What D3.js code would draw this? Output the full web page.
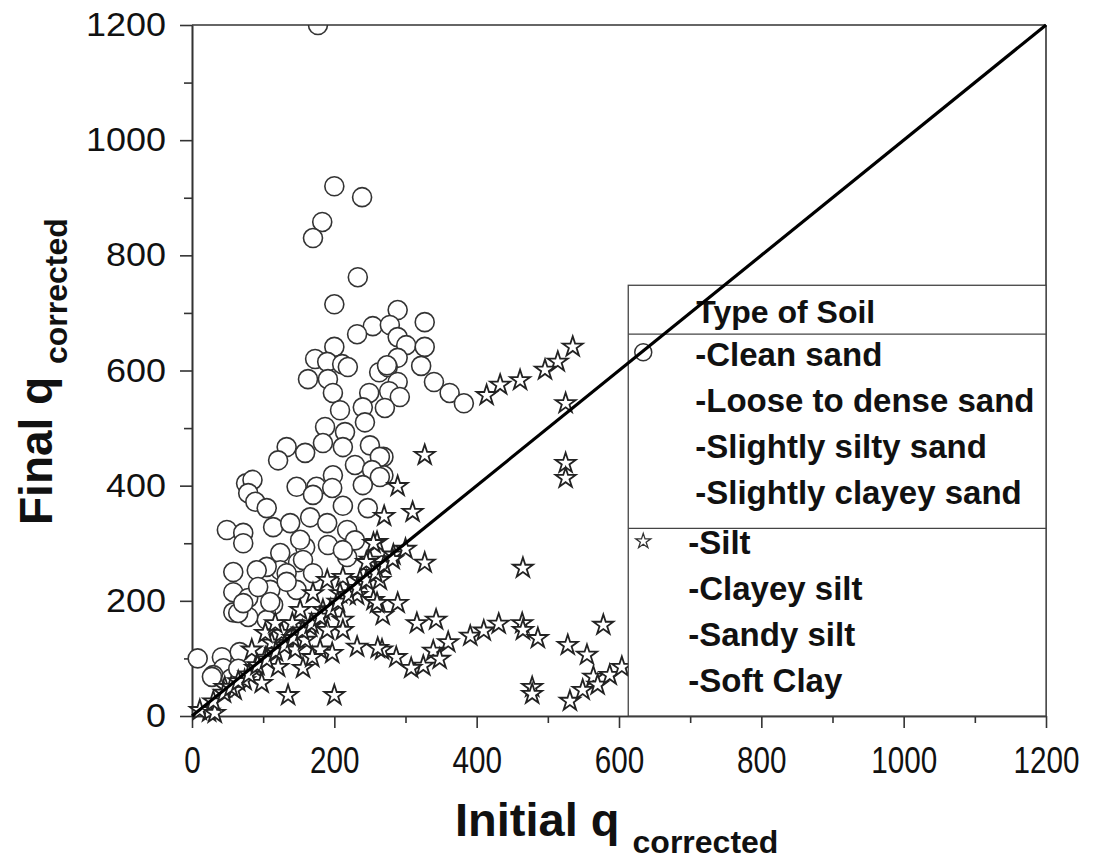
<!DOCTYPE html>
<html>
<head>
<meta charset="utf-8">
<script src="https://cdn.jsdelivr.net/npm/d3@7"></script>
<style>
  body { margin: 0; background: #fff; }
  text { font-family: "Liberation Sans", Arial, sans-serif; fill: #111; }
</style>
</head>
<body>
<svg class="chart"></svg>
<script>
// sand type soils (circles), [initial, final]
var sandPoints = [
  [200,920],[239,901],[183,858],[170,830],[233,762],[200,715],[289,705],[327,684],[254,677],[278,679],
  [232,663],[289,658],[301,644],[327,641],[200,641],[173,620],[190,615],[211,611],[219,606],[289,622],
  [322,608],[263,597],[275,606],[163,585],[191,585],[340,580],[289,580],[198,561],[249,561],[277,564],
  [274,609],[362,561],[382,543],[292,554],[271,535],[269,450],[269,418],
  [208,531],[240,536],[243,510],[187,502],[215,493],[133,467],[159,457],[121,444],[184,474],[212,467],
  [250,470],[264,450],[229,436],[253,427],[264,415],[198,418],[76,404],[85,410],[147,398],[175,398],
  [197,396],[240,401],[79,387],[170,384],[89,372],[105,361],[247,361],[212,365],[49,323],[72,318],
  [114,328],[166,345],[138,335],[190,335],[218,323],[72,300],[124,283],[159,293],[191,297],[58,250],
  [124,253],[149,267],[218,276],[229,305],[152,306],[212,288],[156,271],[105,259],[133,248],[170,248],
  [110,219],[147,219],[114,193],[105,167],[91,253],[58,215],[79,205],[93,224],[110,198],[58,180],
  [79,172],[42,102],[44,83],[67,111],[30,71],[133,233],[8,100],[28,68],[65,179],[72,196],[55,65],
  [65,82],[177,1200]
];

// silt and clay type soils (stars)
var siltPoints = [
  [535,641],[514,615],[496,601],[461,583],[433,575],[414,557],[525,543],[327,453],[525,439],[525,413],
  [289,399],[310,354],[270,347],[283,280],[327,266],[465,257],[289,196],[268,175],[316,161],[343,167],
  [391,139],[410,148],[431,160],[464,161],[465,149],[486,135],[528,123],[555,106],[578,158],[360,128],
  [339,113],[348,99],[325,87],[308,83],[287,102],[267,115],[478,50],[478,38],[531,26],[549,45],
  [564,68],[570,54],[587,71],[604,85],[264,236],[255,201],[212,167],[212,149],[232,120],[261,118],
  [156,83],[197,109],[180,115],[135,36],[200,36],[24,7],[11,10],[46,50],[260,302],[250,271],
  [236,236],[212,241],[208,213],[232,210],[260,196],[190,236],[170,213],[152,184],[184,184],[166,155],
  [190,149],[32,5],[89,83],[103,101],[84,115],[112,127],[126,144],[141,161],[103,144],[117,161],
  [74,62],[60,45],[98,57],[121,85],[145,115],[159,132],[169,102],[255,300],[245,267],
  [30,25],[45,40],[55,50],[65,60],[80,72],[92,88],[105,98],[118,112],[130,122],[142,135],
  [155,148],[168,160],[180,172],[195,185],[205,198],[220,210],[232,222],[245,235],[258,248],[270,262],
  [282,272],[300,290]
];

var xTicks = [0, 200, 400, 600, 800, 1000, 1200];
var yTicks = [0, 200, 400, 600, 800, 1000, 1200];
var minorTicks = [100, 300, 500, 700, 900, 1100];

var legendHeader = "Type of Soil";
var sandTypes = ["-Clean sand", "-Loose to dense sand", "-Slightly silty sand", "-Slightly clayey sand"];
var siltTypes = ["-Silt", "-Clayey silt", "-Sandy silt", "-Soft Clay"];

var margin = {top: 25, right: 50, bottom: 144, left: 192},
    width = 1096 - margin.left - margin.right,
    height = 860 - margin.top - margin.bottom;

var svg = d3.select(".chart")
    .attr("width", width + margin.left + margin.right)
    .attr("height", height + margin.top + margin.bottom)
    .append("g")
    .attr("transform", "translate(" + margin.left + "," + margin.top + ")");

var x = d3.scaleLinear().domain([0, 1200]).range([0, width]);
var y = d3.scaleLinear().domain([0, 1200]).range([height, 0]);
var fmt = d3.format("d");

// axes: major ticks with labels, minor ones without
var xAxis = svg.append("g").attr("transform", "translate(0," + height + ")")
    .call(d3.axisBottom(x).tickValues(xTicks).tickSize(12).tickPadding(18).tickFormat(fmt).tickSizeOuter(0));
svg.append("g").attr("transform", "translate(0," + height + ")")
    .call(d3.axisBottom(x).tickValues(minorTicks).tickSize(7).tickFormat("").tickSizeOuter(0));
var yAxis = svg.append("g")
    .call(d3.axisLeft(y).tickValues(yTicks).tickSize(12).tickPadding(14).tickFormat(fmt).tickSizeOuter(0));
svg.append("g")
    .call(d3.axisLeft(y).tickValues(minorTicks).tickSize(8).tickFormat("").tickSizeOuter(0));

svg.selectAll(".domain, .tick line").attr("stroke", "#333").attr("stroke-width", 1.6);
xAxis.selectAll("text").style("font-size", "37px").attr("dy", "0.72em")
    .attr("textLength", function(d) { return fmt(d).length * 16.5; })
    .attr("lengthAdjust", "spacingAndGlyphs");
yAxis.selectAll("text").style("font-size", "33px")
    .attr("textLength", function(d) { return fmt(d).length * 20; })
    .attr("lengthAdjust", "spacingAndGlyphs");

// markers
svg.append("clipPath").attr("id", "clip")
    .append("rect").attr("x", -20).attr("y", 0).attr("width", width + 20).attr("height", height + 20);

var marks = svg.append("g").attr("clip-path", "url(#clip)");

marks.selectAll("circle").data(sandPoints).enter()
    .append("circle")
    .attr("cx", function(d) { return x(d[0]); })
    .attr("cy", function(d) { return y(d[1]); })
    .attr("r", 9.5)
    .attr("fill", "#fff")
    .attr("stroke", "#333")
    .attr("stroke-width", 1.6);

var star = d3.symbol().type(d3.symbolStar).size(125);
marks.selectAll("path.star").data(siltPoints).enter()
    .append("path")
    .attr("class", "star")
    .attr("d", star)
    .attr("transform", function(d) { return "translate(" + x(d[0]) + "," + y(d[1]) + ")"; })
    .attr("fill", "#fff")
    .attr("stroke", "#222")
    .attr("stroke-width", 1.8);

// frame top and right
svg.append("line").attr("x1", 0).attr("x2", width).attr("y1", 0).attr("y2", 0)
    .attr("stroke", "#333").attr("stroke-width", 1.6);
svg.append("line").attr("x1", width).attr("x2", width).attr("y1", 0).attr("y2", height)
    .attr("stroke", "#333").attr("stroke-width", 1.6);

// legend box
var lx = x(613), ltop = y(748), lsep1 = y(663), lsep2 = y(326);
var legend = svg.append("g");
legend.append("rect").attr("x", lx).attr("y", ltop).attr("width", width - lx).attr("height", height - ltop)
    .attr("fill", "#fff").attr("stroke", "#444").attr("stroke-width", 1.3);
[lsep1, lsep2].forEach(function(ly) {
  legend.append("line").attr("x1", lx).attr("x2", width).attr("y1", ly).attr("y2", ly)
      .attr("stroke", "#444").attr("stroke-width", 1.3);
});
legend.append("text").attr("x", lx + 68).attr("y", ltop + 38)
    .style("font-size", "32px").style("font-weight", "bold").text(legendHeader);
legend.selectAll("text.sand").data(sandTypes).enter()
    .append("text").attr("class", "sand")
    .attr("x", lx + 67).attr("y", function(d, i) { return lsep1 + 32 + i * 46; })
    .style("font-size", "33px").style("font-weight", "bold").text(function(d) { return d; });
legend.selectAll("text.silt").data(siltTypes).enter()
    .append("text").attr("class", "silt")
    .attr("x", lx + 60).attr("y", function(d, i) { return lsep2 + 26 + i * 46; })
    .style("font-size", "33px").style("font-weight", "bold").text(function(d) { return d; });

// 1:1 line
svg.append("line")
    .attr("x1", x(0)).attr("y1", y(0)).attr("x2", x(1200)).attr("y2", y(1200))
    .attr("stroke", "#000").attr("stroke-width", 3.2);

// legend symbols
legend.append("circle").attr("cx", lx + 15).attr("cy", lsep1 + 18).attr("r", 8.5)
    .attr("fill", "#fff").attr("stroke", "#333").attr("stroke-width", 1.5);
svg.append("path").attr("d", d3.symbol().type(d3.symbolStar).size(70))
    .attr("transform", "translate(" + (lx + 15) + "," + (lsep2 + 13) + ")")
    .attr("fill", "#fff").attr("stroke", "#333").attr("stroke-width", 1.3);

// axis titles
var xt = svg.append("text").attr("x", 263).attr("y", height + 120)
    .style("font-size", "47px").style("font-weight", "bold");
xt.append("tspan").text("Initial q ");
xt.append("tspan").attr("dy", 17).style("font-size", "32px").text("corrected");

var yt = svg.append("text").attr("transform", "rotate(-90)")
    .attr("x", -500).attr("y", -140)
    .style("font-size", "46px").style("font-weight", "bold");
yt.append("tspan").text("Final q ");
yt.append("tspan").attr("dy", 15).style("font-size", "32px").text("corrected");
</script>
</body>
</html>
